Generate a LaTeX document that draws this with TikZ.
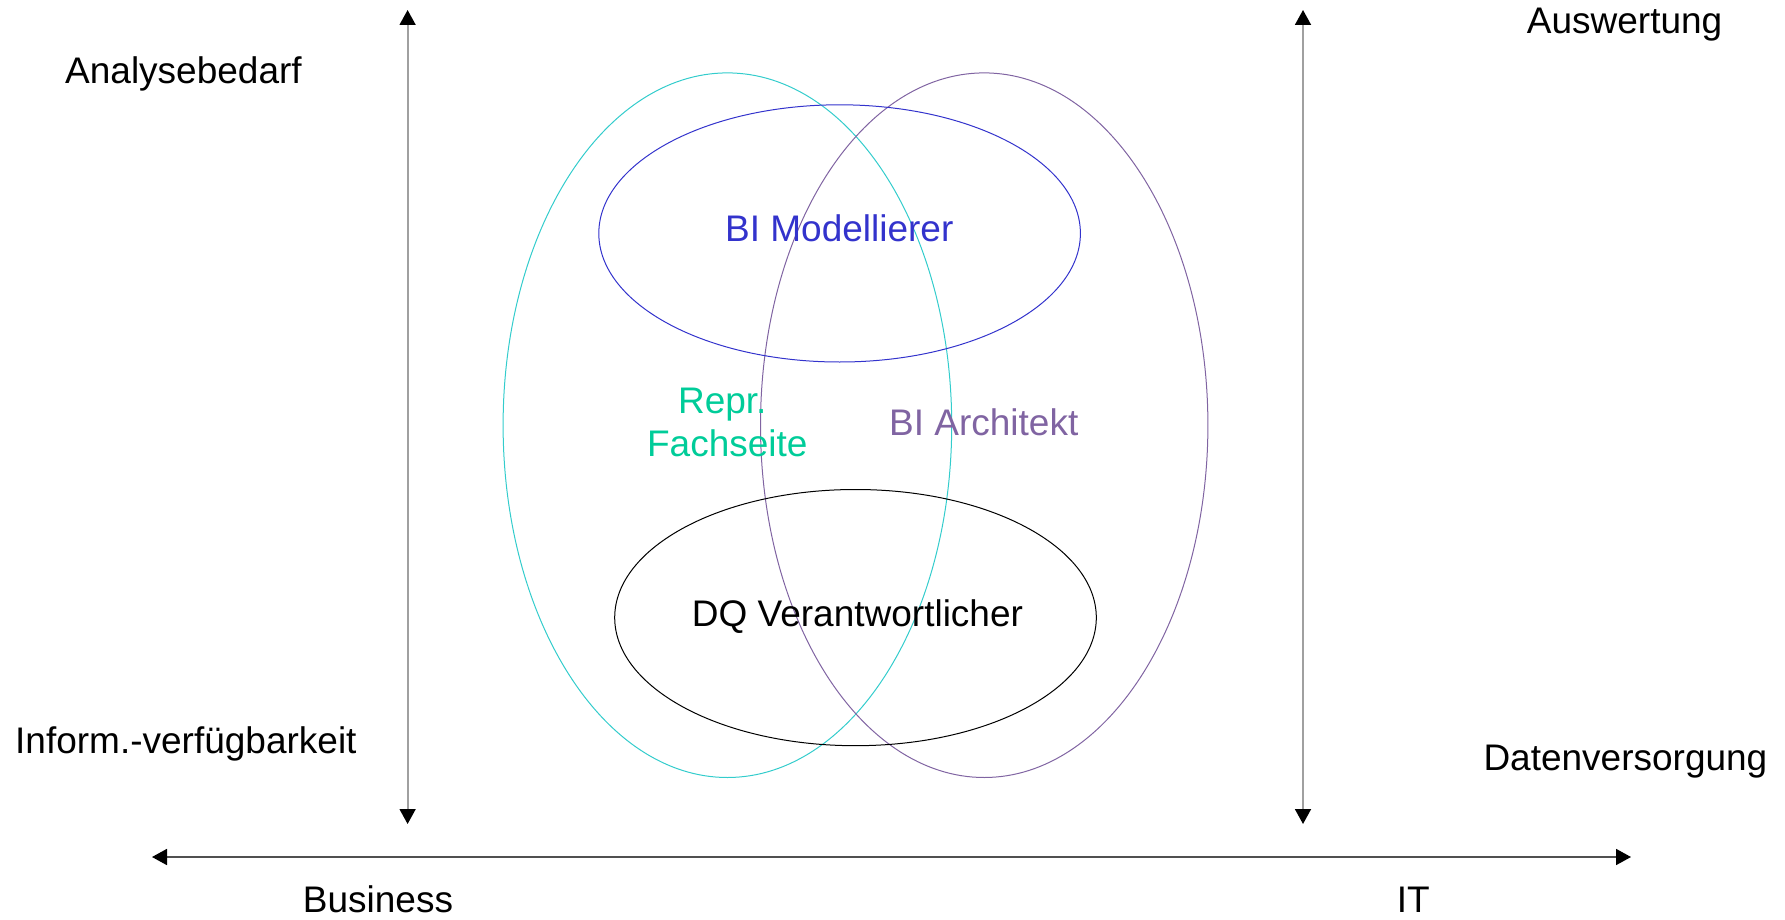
\documentclass[tikz,border=0pt]{standalone}
\usepackage{fontspec}
\setmainfont{Liberation Sans}
\usetikzlibrary{arrows.meta}
\definecolor{cyanring}{RGB}{51,204,204}
\definecolor{purplering}{RGB}{128,100,162}
\definecolor{bluering}{RGB}{51,51,204}
\definecolor{greentext}{RGB}{0,204,153}
\definecolor{axisgray}{RGB}{160,160,160}
\definecolor{axisdark}{RGB}{80,80,80}
\begin{document}
\begin{tikzpicture}[x=1pt,y=-1pt,
  lbl/.style={inner sep=0pt,anchor=base west,font=\fontsize{37}{43.4}\selectfont},
  clbl/.style={inner sep=0pt,anchor=base,font=\fontsize{37}{43.4}\selectfont},
  axtip/.tip={Triangle[width=16pt,length=15pt,color=black]},
  vaxis/.style={axtip-axtip,draw=axisgray,line width=1.8pt},
  haxis/.style={axtip-axtip,draw=axisdark,line width=1.8pt},
  ring/.style={line width=1pt}]
\useasboundingbox (0,0) rectangle (1785,920);

% axis end points
\coordinate (lt) at (407.6,10);
\coordinate (lb) at (407.6,824);
\coordinate (rt) at (1303,10);
\coordinate (rb) at (1303,824);
\coordinate (hl) at (152,857);
\coordinate (hr) at (1631,857);

\draw[vaxis] (lb) -- (lt);
\draw[vaxis] (rb) -- (rt);
\draw[haxis] (hl) -- (hr);

% role sets
\draw[ring,draw=cyanring] (727.4,425.2) ellipse [x radius=224.3, y radius=352.3];
\draw[ring,draw=purplering] (984.2,425.2) ellipse [x radius=223.7, y radius=352.3];
\draw[ring,draw=bluering] (839.6,233.4) ellipse [x radius=240.8, y radius=128.6];
\draw[ring,draw=black] (855.5,617.6) ellipse [x radius=240.8, y radius=128.1];

% axis labels
\node[lbl] (analyse) at (65,83.3) {Analysebedarf};
\node[lbl] (inform) at (15,753.3) {Inform.-verfügbarkeit};
\node[lbl] (ausw) at (1526.7,33.3) {Auswertung};
\node[lbl] (daten) at (1483.3,770) {Datenversorgung};
\node[lbl] (business) at (302.7,912.5) {Business};
\node[lbl] (it) at (1396.7,912.5) {IT};

% role labels
\node[lbl,text=bluering] (modell) at (725,241.7) {BI Modellierer};
\node[clbl,text=greentext] (repr) at (722.3,413.3) {Repr.};
\node[clbl,text=greentext] (fach) at (727.3,456.7) {Fachseite};
\node[lbl,text=purplering] (archi) at (889,435) {BI Architekt};
\node[lbl] (dq) at (691.7,626.7) {DQ Verantwortlicher};
\end{tikzpicture}
\end{document}
